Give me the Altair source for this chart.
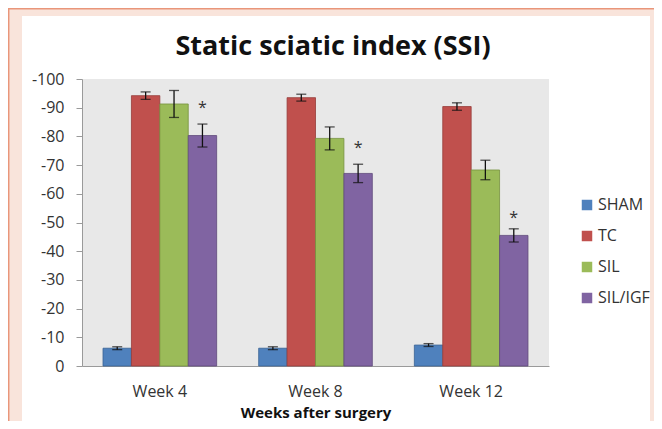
import altair as alt
import pandas as pd

weeks = ["Week 4", "Week 8", "Week 12"]
groups = ["SHAM", "TC", "SIL", "SIL/IGF"]
colors = ["#4f81bd", "#c0504d", "#9bbb59", "#8064a2"]
edge_colors = ["#3a6394", "#963c3a", "#76923f", "#5f4a7b"]
y_ticks = [0, -10, -20, -30, -40, -50, -60, -70, -80, -90, -100]

sham = [-6.2, -6.2, -7.3]
sham_err = [0.5, 0.5, 0.5]
tc = [-94.2, -93.5, -90.4]
tc_err = [1.3, 1.2, 1.3]
sil = [-91.3, -79.3, -68.3]
sil_err = [4.7, 4.0, 3.4]
siligf = [-80.3, -67.1, -45.5]
siligf_err = [4.0, 3.2, 2.3]
star_pos = [-91.0, -77.0, -52.5]

rows = []
for series, vals, errs in [("SHAM", sham, sham_err), ("TC", tc, tc_err),
                           ("SIL", sil, sil_err), ("SIL/IGF", siligf, siligf_err)]:
    for w, v, e in zip(weeks, vals, errs):
        rows.append({"week": w, "group": series, "value": v,
                     "lo": v - e, "hi": v + e})
df = pd.DataFrame(rows)
stars = pd.DataFrame({"week": weeks, "group": ["SIL/IGF"] * 3, "pos": star_pos, "label": ["*"] * 3})
title_df = pd.DataFrame({"t": ["Static sciatic index (SSI)"]})

x_axis = alt.Axis(title="Weeks after surgery", labelAngle=0, ticks=False,
                  labelFontSize=16, labelColor="#333333", labelPadding=17,
                  labelFont="Open Sans",
                  titleFont="Open Sans", titleFontSize=15, titleFontWeight="bold",
                  titleColor="#111111", titlePadding=6,
                  domainColor="#9a9a9a")
x_scale = alt.Scale(paddingInner=0.27, paddingOuter=0.135)
y_axis = alt.Axis(title=None, values=y_ticks,
                  labelExpr="'' + datum.value", labelFontSize=16,
                  labelOverlap=False, labelBound=False,
                  labelColor="#333333", labelFont="Open Sans", grid=False,
                  tickSize=6, tickColor="#9a9a9a", domainColor="#9a9a9a",
                  labelPadding=12)
y_scale = alt.Scale(domain=[-100, 0], reverse=True, nice=False)
xoff = alt.XOffset("group:N", sort=groups, scale=alt.Scale(domain=groups, paddingInner=0, paddingOuter=0))


def X():
    return alt.X("week:N", sort=weeks, scale=x_scale, axis=x_axis)


def Y(field):
    return alt.Y(field, scale=y_scale, axis=y_axis)


bars = alt.Chart(df).mark_bar(strokeWidth=0.8).encode(
    x=X(), xOffset=xoff, y=Y("value:Q"),
    color=alt.Color("group:N", sort=groups,
                    scale=alt.Scale(domain=groups, range=colors),
                    legend=alt.Legend(title=None, orient="none", legendX=497, legendY=118,
                                      symbolType="square", symbolSize=110,
                                      symbolStrokeWidth=0,
                                      labelFontSize=16, labelFont="Open Sans",
                                      labelColor="#333333", rowPadding=15,
                                      labelOffset=3)),
    stroke=alt.Stroke("group:N", sort=groups,
                      scale=alt.Scale(domain=groups, range=edge_colors), legend=None),
)

rules = alt.Chart(df).mark_rule(color="#111111", strokeWidth=1.3).encode(
    x=X(), xOffset=xoff, y=Y("lo:Q"), y2="hi:Q")

caps_lo = alt.Chart(df).mark_tick(color="#111111", thickness=1.3, size=10, orient="horizontal").encode(
    x=X(), xOffset=xoff, y=Y("lo:Q"))
caps_hi = alt.Chart(df).mark_tick(color="#111111", thickness=1.3, size=10, orient="horizontal").encode(
    x=X(), xOffset=xoff, y=Y("hi:Q"))

star_text = alt.Chart(stars).mark_text(fontSize=16, font="Open Sans", color="#333333",
                                       baseline="middle", dy=3).encode(
    x=X(), xOffset=xoff, y=Y("pos:Q"), text="label:N")

pink = "#f9e4db"
strip_left = alt.Chart(title_df).mark_rect(color=pink).encode(
    x=alt.value(-74), x2=alt.value(-60), y=alt.value(-71), y2=alt.value(342))
strip_top = alt.Chart(title_df).mark_rect(color=pink).encode(
    x=alt.value(-74), x2=alt.value(572), y=alt.value(-71), y2=alt.value(-63))
strip_right = alt.Chart(title_df).mark_rect(color=pink).encode(
    x=alt.value(568), x2=alt.value(572), y=alt.value(-71), y2=alt.value(342))
frame_top = alt.Chart(title_df).mark_rule(color="#e9967a", strokeWidth=1.5).encode(
    x=alt.value(-74), x2=alt.value(572), y=alt.value(-70.3))
frame_left = alt.Chart(title_df).mark_rule(color="#e9967a", strokeWidth=1.5).encode(
    x=alt.value(-73.3), y=alt.value(-71), y2=alt.value(342))

title_text = alt.Chart(title_df).mark_text(font="Open Sans", fontSize=27, fontWeight="bold",
                                           color="#111111", align="center",
                                           baseline="alphabetic").encode(
    x=alt.value(251), y=alt.value(-24), text="t:N")

chart = alt.layer(strip_left, strip_top, strip_right, frame_top, frame_left, title_text,
                  bars, rules, caps_lo, caps_hi, star_text).properties(
    width=467, height=287,
    autosize=alt.AutoSizeParams(type="none"),
    padding={"left": 74, "top": 71, "right": 105, "bottom": 55},
    background="white",
).configure_view(fill="#e8e8e8", stroke=None)

chart.save("out.html", embed_options={"renderer": "svg", "actions": False})
